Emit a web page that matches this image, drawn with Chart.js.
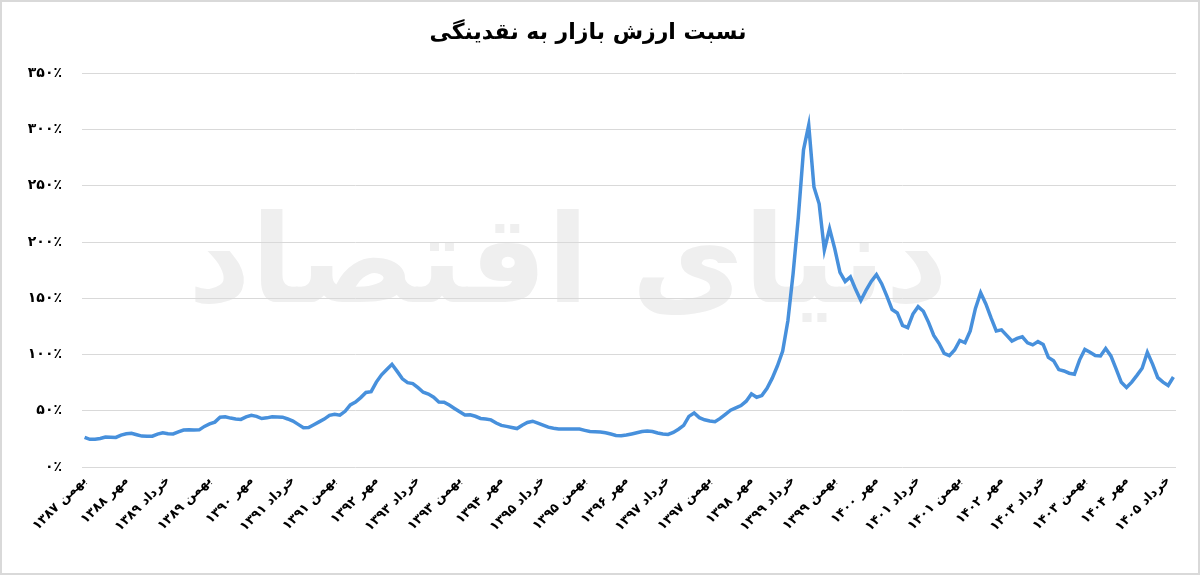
<!DOCTYPE html>
<html lang="fa">
<head>
<meta charset="utf-8">
<script src="https://cdn.jsdelivr.net/npm/chart.js@4.4.1/dist/chart.umd.min.js"></script>
<style>
  html, body { margin: 0; padding: 0; background: #ffffff; }
  #wrap { width: 1200px; height: 575px; position: relative; }
  canvas { display: block; }
</style>
</head>
<body>
<div id="wrap"><canvas id="c" width="1200" height="575"></canvas></div>
<script>
// ---- Data ----
const chartTitle = 'نسبت ارزش بازار به نقدینگی';
const watermarkText = 'دنیای اقتصاد';

// tick labels shown every 8 months (monthly series starts at بهمن ۱۳۸۷)
const tickLabels = [
  'بهمن ۱۳۸۷','مهر ۱۳۸۸','خرداد ۱۳۸۹','بهمن ۱۳۸۹','مهر ۱۳۹۰','خرداد ۱۳۹۱',
  'بهمن ۱۳۹۱','مهر ۱۳۹۲','خرداد ۱۳۹۳','بهمن ۱۳۹۳','مهر ۱۳۹۴','خرداد ۱۳۹۵',
  'بهمن ۱۳۹۵','مهر ۱۳۹۶','خرداد ۱۳۹۷','بهمن ۱۳۹۷','مهر ۱۳۹۸','خرداد ۱۳۹۹',
  'بهمن ۱۳۹۹','مهر ۱۴۰۰','خرداد ۱۴۰۱','بهمن ۱۴۰۱','مهر ۱۴۰۲','خرداد ۱۴۰۳',
  'بهمن ۱۴۰۳','مهر ۱۴۰۴','خرداد ۱۴۰۵'
];
const tickEvery = 8;

// market value / liquidity ratio, percent, monthly
const ratioValues = [
  26.4, 24.6, 24.7, 25.3, 26.6, 26.5, 26.3, 28.4, 29.6, 30.0,
  28.7, 27.5, 27.3, 27.4, 29.3, 30.5, 29.6, 29.4, 31.2, 32.9,
  33.1, 32.8, 33.0, 36.1, 38.3, 39.9, 44.2, 44.6, 43.5, 42.7,
  42.3, 44.6, 46.0, 45.0, 43.1, 43.7, 44.6, 44.4, 44.3, 42.7,
  40.8, 37.9, 34.9, 35.1, 37.6, 40.1, 42.6, 45.9, 46.8, 46.0,
  49.5, 55.2, 57.7, 61.7, 66.3, 67.0, 75.5, 82.0, 86.7, 91.3,
  85.0, 78.4, 75.0, 74.2, 70.5, 66.5, 64.9, 62.1, 57.8, 57.6,
  55.1, 52.1, 49.1, 46.2, 46.4, 45.1, 43.2, 42.7, 41.9, 39.1,
  37.0, 36.1, 35.1, 34.2, 37.2, 39.6, 40.7, 39.0, 37.2, 35.4,
  34.4, 33.8, 33.7, 33.7, 33.7, 33.7, 32.6, 31.6, 31.4, 31.2,
  30.5, 29.3, 28.0, 27.8, 28.4, 29.4, 30.5, 31.6, 32.1, 31.6,
  30.3, 29.4, 28.9, 30.7, 33.6, 37.0, 45.0, 48.0, 43.9, 42.0,
  40.9, 40.2, 43.2, 46.8, 50.5, 52.5, 54.6, 58.5, 65.0, 62.0,
  63.5, 70.0, 79.0, 90.0, 103.0, 130.0, 172.0, 222.0, 282.0, 304.0,
  249.0, 234.0, 193.0, 212.0, 194.0, 173.0, 165.0, 169.0, 158.0, 148.0,
  157.0, 165.0, 171.0, 163.0, 152.0, 140.0, 137.0, 126.0, 124.0, 136.0,
  142.6, 138.5, 128.6, 117.0, 110.0, 101.0, 99.0, 104.0, 112.5, 110.5,
  121.0, 141.0, 155.0, 145.0, 132.6, 121.0, 122.0, 117.0, 112.0, 114.4,
  115.8, 110.4, 108.6, 111.5, 109.0, 97.5, 94.5, 86.6, 85.4, 83.4,
  82.5, 95.3, 104.6, 102.0, 99.2, 98.8, 105.4, 98.8, 87.3, 75.3,
  70.7, 75.5, 81.5, 87.8, 102.0, 91.5, 79.5, 75.5, 72.5, 80.0
];

const yMin = 0, yMax = 350, yStep = 50;

// ---- helpers ----
const faDigits = ['۰','۱','۲','۳','۴','۵','۶','۷','۸','۹'];
function toFa(n) { return String(n).replace(/[0-9]/g, d => faDigits[+d]); }

const categories = ratioValues.map((v, i) => (i % tickEvery === 0 ? tickLabels[i / tickEvery] : ''));

const FONT = "'DejaVu Sans', 'Noto Sans', sans-serif";

const watermarkPlugin = {
  id: 'watermark',
  beforeDraw(chart) {
    const ctx = chart.ctx;
    ctx.save();
    const targetW = 760;
    let size = 100;
    ctx.font = `bold ${size}px ${FONT}`;
    const w = ctx.measureText(watermarkText).width;
    size = size * targetW / w;
    ctx.font = `bold ${size}px ${FONT}`;
    ctx.fillStyle = '#efefef';
    ctx.textAlign = 'center';
    ctx.textBaseline = 'middle';
    ctx.direction = 'rtl';
    ctx.fillText(watermarkText, 568, 270);
    ctx.restore();
  }
};

const framePlugin = {
  id: 'frame',
  afterDraw(chart) {
    const ctx = chart.ctx;
    ctx.save();
    ctx.strokeStyle = '#d9d9d9';
    ctx.lineWidth = 2;
    ctx.strokeRect(1, 1, chart.width - 2, chart.height - 2);
    ctx.restore();
  }
};

new Chart(document.getElementById('c'), {
  type: 'line',
  data: {
    labels: categories,
    datasets: [{
      label: chartTitle,
      data: ratioValues,
      borderColor: '#4790dc',
      backgroundColor: '#4790dc',
      borderWidth: 3.5,
      pointRadius: 0,
      tension: 0,
      fill: false
    }]
  },
  options: {
    responsive: false,
    animation: false,
    devicePixelRatio: 1,
    layout: { padding: { left: 0, right: 24, top: 0, bottom: 0 } },
    plugins: {
      legend: { display: false },
      tooltip: { enabled: false },
      title: {
        display: true,
        text: chartTitle,
        color: '#000000',
        font: { family: FONT, size: 22, weight: 'bold', lineHeight: 1.2 },
        padding: { top: 20, bottom: 27 }
      }
    },
    scales: {
      x: {
        type: 'category',
        offset: true,
        grid: { display: false, drawTicks: false },
        border: { display: false },
        afterFit(scale) { scale.height = 108; },
        ticks: {
          autoSkip: false,
          minRotation: 45,
          maxRotation: 45,
          padding: 6,
          color: '#000000',
          font: { family: FONT, size: 13, weight: 'bold' },
          callback(value, index) {
            return index % tickEvery === 0 ? tickLabels[index / tickEvery] : null;
          }
        }
      },
      y: {
        min: yMin,
        max: yMax,
        grid: { color: '#d9d9d9', lineWidth: 1, drawTicks: false },
        border: { display: false },
        afterFit(scale) { scale.width = 82; },
        ticks: {
          stepSize: yStep,
          padding: 20,
          color: '#000000',
          font: { family: FONT, size: 14, weight: 'bold' },
          callback(v) { return toFa(v) + '٪'; }
        }
      }
    }
  },
  plugins: [watermarkPlugin, framePlugin]
});
</script>
</body>
</html>
